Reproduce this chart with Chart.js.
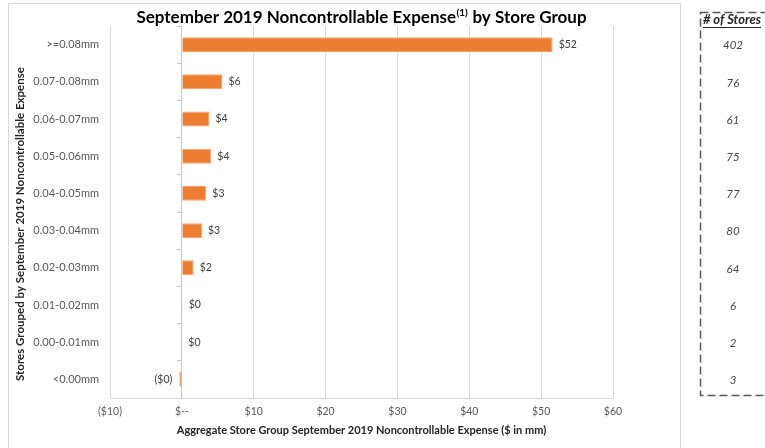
<!DOCTYPE html>
<html>
<head>
<meta charset="utf-8">
<script src="https://cdn.jsdelivr.net/npm/chart.js@4"></script>
<style>
  html, body { margin: 0; padding: 0; background: #fff; }
  #wrap { width: 765px; height: 448px; position: relative; }
</style>
</head>
<body>
<div id="wrap"><canvas id="expenseChart" width="765" height="448"></canvas></div>
<script>
// store groups, top to bottom
const storeGroups = ['>=0.08mm', '0.07-0.08mm', '0.06-0.07mm', '0.05-0.06mm', '0.04-0.05mm',
                     '0.03-0.04mm', '0.02-0.03mm', '0.01-0.02mm', '0.00-0.01mm', '<0.00mm'];
// aggregate expense, $ in mm
const expenseValues = [51.6, 5.65, 3.85, 4.1, 3.4, 2.8, 1.65, 0.12, 0.03, -0.35];
// # of stores column
const storeCounts = [402, 76, 61, 75, 77, 80, 64, 6, 2, 3];

const chartTitle = ['September 2019 Noncontrollable Expense', '(1)', ' by Store Group'];
const xAxisTitle = 'Aggregate Store Group September 2019 Noncontrollable Expense ($ in mm)';
const yAxisTitle = 'Stores Grouped by September 2019 Noncontrollable Expense';
const tableHeader = '# of Stores';

const FONT = 'Lato, "Open Sans", sans-serif';

function money(v) {
    if (v === 0) return '$--';
    const r = Math.round(Math.abs(v));
    return v < 0 ? '($' + r + ')' : '$' + r;
}

// outer frame, title with superscript, rotated y title
const framePlugin = {
    id: 'framePlugin',
    beforeDraw(chart) {
        const ctx = chart.ctx;
        ctx.save();
        ctx.strokeStyle = '#d9d9d9';
        ctx.lineWidth = 1;
        ctx.strokeRect(8.5, 3.5, 672, 450);
        ctx.restore();
    },
    afterDraw(chart) {
        const ctx = chart.ctx;
        const area = chart.chartArea;
        ctx.save();
        ctx.fillStyle = '#000';
        ctx.textBaseline = 'alphabetic';
        const big = 'bold 17px ' + FONT;
        const small = 'bold 10px ' + FONT;
        ctx.font = big;
        const w1 = ctx.measureText(chartTitle[0]).width;
        const w3 = ctx.measureText(chartTitle[2]).width;
        ctx.font = small;
        const w2 = ctx.measureText(chartTitle[1]).width + 1;
        let x = (area.left + area.right) / 2 - (w1 + w2 + w3) / 2;
        const y = 23;
        ctx.font = big;
        ctx.fillText(chartTitle[0], x, y);
        x += w1;
        ctx.font = small;
        ctx.fillText(chartTitle[1], x + 0.5, y - 7);
        x += w2;
        ctx.font = big;
        ctx.fillText(chartTitle[2], x, y);

        // y axis title
        ctx.translate(20, 224);
        ctx.rotate(-Math.PI / 2);
        ctx.fillStyle = '#262626';
        ctx.font = 'bold 11.5px ' + FONT;
        ctx.textAlign = 'center';
        ctx.textBaseline = 'middle';
        ctx.fillText(yAxisTitle, 0, 0);
        ctx.restore();
    }
};

// value labels at bar ends
const barLabels = {
    id: 'barLabels',
    afterDatasetsDraw(chart) {
        const ctx = chart.ctx;
        const meta = chart.getDatasetMeta(0);
        ctx.save();
        ctx.font = '10.5px ' + FONT;
        ctx.fillStyle = '#404040';
        ctx.textBaseline = 'middle';
        meta.data.forEach((bar, i) => {
            const v = expenseValues[i];
            if (v < 0) {
                ctx.textAlign = 'right';
                ctx.fillText('($' + Math.round(-v) + ')', bar.x - 7, bar.y);
            } else {
                ctx.textAlign = 'left';
                ctx.fillText('$' + Math.round(v), Math.max(bar.x, bar.base) + 6, bar.y);
            }
        });
        ctx.restore();
    }
};

// # of stores box on the right
const storeTable = {
    id: 'storeTable',
    afterDraw(chart) {
        const ctx = chart.ctx;
        const yScale = chart.scales.y;
        const cx = 733;
        ctx.save();
        ctx.strokeStyle = '#595959';
        ctx.lineWidth = 1.5;
        ctx.setLineDash([8, 4]);
        ctx.strokeRect(700.5, 12.5, 80, 383);
        ctx.setLineDash([]);

        ctx.fillStyle = '#262626';
        ctx.textAlign = 'center';
        ctx.textBaseline = 'middle';
        ctx.font = 'italic bold 13px ' + FONT;
        ctx.fillText(tableHeader, 732, 20);
        const hw = ctx.measureText(tableHeader).width;
        ctx.fillRect(732 - hw / 2, 27, hw, 1);

        ctx.font = 'italic 11.5px ' + FONT;
        ctx.fillStyle = '#4a4a4a';
        storeCounts.forEach((n, i) => {
            ctx.fillText(String(n), cx, yScale.getPixelForValue(i) + 1);
        });
        ctx.restore();
    }
};

const ctx = document.getElementById('expenseChart').getContext('2d');
const expenseChart = new Chart(ctx, {
    type: 'bar',
    data: {
        labels: storeGroups,
        datasets: [{
            data: expenseValues,
            backgroundColor: '#ED7D31',
            borderColor: '#F4A46A',
            borderWidth: 1,
            barPercentage: 0.4,
            categoryPercentage: 1
        }]
    },
    options: {
        indexAxis: 'y',
        responsive: false,
        animation: false,
        layout: {
            padding: { top: 26, right: 152, bottom: 0, left: 0 }
        },
        plugins: {
            legend: { display: false },
            tooltip: { enabled: false }
        },
        scales: {
            x: {
                min: -10,
                max: 60,
                ticks: {
                    stepSize: 10,
                    padding: 7,
                    color: '#595959',
                    font: { family: FONT, size: 10.5 },
                    callback: (v) => money(v)
                },
                grid: { color: '#d9d9d9', drawTicks: false },
                border: { display: true, color: '#d9d9d9' },
                title: {
                    display: true,
                    text: xAxisTitle,
                    color: '#262626',
                    font: { family: FONT, size: 11, weight: 'bold' },
                    padding: { top: 0, bottom: 11 }
                },
                afterFit: (scale) => { scale.height = 50; }
            },
            y: {
                grid: { display: false, drawTicks: false },
                border: { display: false },
                ticks: {
                    padding: 11,
                    color: '#595959',
                    font: { family: FONT, size: 11 }
                },
                afterFit: (scale) => { scale.width = 110; }
            },
            y2: {
                type: 'category',
                axis: 'y',
                position: { x: 0 },
                offset: true,
                ticks: { display: false },
                grid: { drawOnChartArea: false, tickLength: 4, color: '#c8c8c8', offset: true },
                border: { color: '#c8c8c8' }
            }
        }
    },
    plugins: [framePlugin, barLabels, storeTable]
});
</script>
</body>
</html>
